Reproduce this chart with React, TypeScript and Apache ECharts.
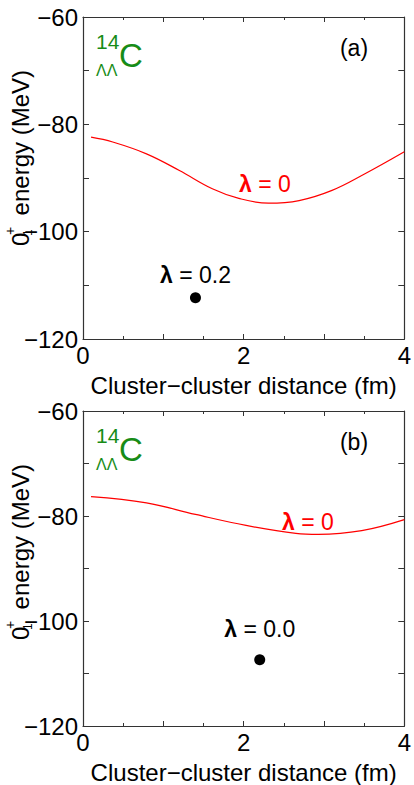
import React, { useEffect, useRef } from "react";
import * as echarts from "echarts";

// Panel (a): lambda = 0 curve
const curveAX = [0.1, 0.37, 0.79, 1.2, 1.61, 1.94, 2.31, 2.69, 3.1, 3.51, 4.0];
const curveAY = [-82.4, -83.3, -85.5, -88.6, -92.0, -93.8, -94.7, -94.2, -92.3, -89.2, -85.1];
// Panel (b): lambda = 0 curve
const curveBX = [0.1, 0.79, 1.4, 2.03, 2.65, 2.93, 3.47, 4.0];
const curveBY = [-76.3, -77.5, -79.7, -81.8, -83.3, -83.5, -82.8, -80.7];
// Optimised points
const pointA = [1.4, -112.3];
const pointB = [2.2, -107.4];
const lambdaLabels = ["0.2", "0.0"];
const panelLabels = ["(a)", "(b)"];
const xTickLabels = [0, 2, 4];
const yTickLabels = [-60, -80, -100, -120];

const FONT = "'Liberation Sans', Arial, Helvetica, sans-serif";
const AXIS_COLOR = "#333";
const GREEN = "#178c17";

export default function App() {
  const ref = useRef<HTMLDivElement>(null);
  useEffect(() => {
    if (!ref.current) return;
    const chart = echarts.init(ref.current, undefined, { renderer: "svg" });

    const grids = [
      { left: 83, top: 17, width: 323, height: 322 },
      { left: 83, top: 411, width: 323, height: 323 },
    ];

    const xAxes: any[] = [];
    const yAxes: any[] = [];
    grids.forEach((_, gi) => {
      xAxes.push({
        type: "value",
        gridIndex: gi,
        min: 0,
        max: 4,
        interval: 1,
        position: "bottom",
        name: "Cluster\u2212cluster distance (fm)",
        nameLocation: "middle",
        nameGap: 34,
        nameTextStyle: { fontSize: 24, color: "#000", fontFamily: FONT },
        axisLine: { show: true, onZero: false, lineStyle: { color: AXIS_COLOR, width: 1.2 } },
        axisTick: { show: true, inside: true, length: 5, lineStyle: { color: AXIS_COLOR } },
        minorTick: { show: true, splitNumber: 2, length: 3, lineStyle: { color: AXIS_COLOR } },
        axisLabel: {
          fontSize: 24,
          color: "#000",
          fontFamily: FONT,
          margin: 4,
          formatter: (v: number) => (xTickLabels.includes(v) ? String(v) : ""),
        },
        splitLine: { show: false },
      });
      xAxes.push({
        type: "value",
        gridIndex: gi,
        min: 0,
        max: 4,
        interval: 1,
        position: "top",
        axisLine: { show: true, onZero: false, lineStyle: { color: AXIS_COLOR, width: 1.2 } },
        axisTick: { show: true, inside: true, length: 5, lineStyle: { color: AXIS_COLOR } },
        minorTick: { show: true, splitNumber: 2, length: 3, lineStyle: { color: AXIS_COLOR } },
        axisLabel: { show: false },
        splitLine: { show: false },
      });
      yAxes.push({
        type: "value",
        gridIndex: gi,
        min: -120,
        max: -60,
        interval: 10,
        position: "left",
        axisLine: { show: true, onZero: false, lineStyle: { color: AXIS_COLOR, width: 1.2 } },
        axisTick: { show: true, inside: true, length: 6, lineStyle: { color: AXIS_COLOR } },
        axisLabel: {
          fontSize: 24,
          color: "#000",
          fontFamily: FONT,
          margin: 5,
          formatter: (v: number) =>
            yTickLabels.includes(v) ? String(v).replace("-", "\u2212") : "",
        },
        splitLine: { show: false },
      });
      yAxes.push({
        type: "value",
        gridIndex: gi,
        min: -120,
        max: -60,
        interval: 10,
        position: "right",
        axisLine: { show: true, onZero: false, lineStyle: { color: AXIS_COLOR, width: 1.2 } },
        axisTick: { show: true, inside: true, length: 6, lineStyle: { color: AXIS_COLOR } },
        axisLabel: { show: false },
        splitLine: { show: false },
      });
    });

    const curves = [
      curveAX.map((x, i) => [x, curveAY[i]]),
      curveBX.map((x, i) => [x, curveBY[i]]),
    ];
    const points = [pointA, pointB];
    const labelDist = [6, 14];

    const series: any[] = [];
    curves.forEach((data, gi) => {
      series.push({
        type: "line",
        xAxisIndex: gi * 2,
        yAxisIndex: gi * 2,
        data,
        smooth: 0.4,
        symbol: "none",
        lineStyle: { color: "#ff0000", width: 1.2 },
        z: 3,
      });
      series.push({
        type: "scatter",
        xAxisIndex: gi * 2,
        yAxisIndex: gi * 2,
        data: [points[gi]],
        symbolSize: 11,
        itemStyle: { color: "#000", opacity: 1 },
        label: {
          show: true,
          position: "top",
          distance: labelDist[gi],
          formatter: "{l|\u03bb} {n|= " + lambdaLabels[gi] + "}",
          fontSize: 23,
          color: "#000",
          fontFamily: FONT,
          rich: {
            l: { fontSize: 23, fontWeight: "bold", color: "#000", fontFamily: FONT },
            n: { fontSize: 23, color: "#000", fontFamily: FONT },
          },
        },
        emphasis: { disabled: true },
        z: 4,
      });
    });

    const graphics: any[] = [];
    const offsets = [0, 394];
    const redLabelPos = [
      [265, 184],
      [308, 522],
    ];
    offsets.forEach((dy, gi) => {
      // nucleus label
      graphics.push({
        type: "text",
        left: 96,
        top: 31 + dy,
        style: { text: "14", fontSize: 21, fill: GREEN, fontFamily: FONT },
      });
      graphics.push({
        type: "text",
        left: 119,
        top: 39 + dy,
        style: { text: "C", fontSize: 33, fill: GREEN, fontFamily: FONT },
      });
      graphics.push({
        type: "text",
        left: 96,
        top: 62 + dy,
        style: { text: "\u039b\u039b", fontSize: 16, fill: GREEN, fontFamily: FONT },
      });
      // panel label
      graphics.push({
        type: "text",
        x: 354,
        y: 48 + dy,
        style: {
          text: panelLabels[gi],
          fontSize: 23,
          fill: "#000",
          fontFamily: FONT,
          align: "center",
          verticalAlign: "middle",
        },
      });
      // red lambda label
      graphics.push({
        type: "text",
        x: redLabelPos[gi][0],
        y: redLabelPos[gi][1],
        style: {
          text: "{l|\u03bb} {n|= 0}",
          fontSize: 23,
          fill: "#ff0000",
          fontFamily: FONT,
          align: "center",
          verticalAlign: "middle",
          rich: {
            l: { fontSize: 23, fontWeight: "bold", fill: "#ff0000", fontFamily: FONT },
            n: { fontSize: 23, fill: "#ff0000", fontFamily: FONT },
          },
        },
      });
      // y axis title (rotated, reading upwards)
      graphics.push({
        type: "group",
        x: 20,
        y: 246 + dy,
        rotation: Math.PI / 2,
        children: [
          {
            type: "text",
            x: 0,
            y: 0,
            style: { text: "0", fontSize: 24, fill: "#000", fontFamily: FONT, verticalAlign: "middle" },
          },
          {
            type: "text",
            x: 11,
            y: -10,
            style: { text: "+", fontSize: 14, fill: "#000", fontFamily: FONT, verticalAlign: "middle" },
          },
          {
            type: "text",
            x: 10,
            y: 8,
            style: { text: "1", fontSize: 12, fill: "#000", fontFamily: FONT, verticalAlign: "middle" },
          },
          {
            type: "text",
            x: 176,
            y: 0,
            style: {
              text: "energy (MeV)",
              fontSize: 24,
              fill: "#000",
              fontFamily: FONT,
              align: "right",
              verticalAlign: "middle",
            },
          },
        ],
      });
    });

    chart.setOption({
      animation: false,
      backgroundColor: "#fff",
      textStyle: { fontFamily: FONT },
      grid: grids,
      xAxis: xAxes,
      yAxis: yAxes,
      series,
      graphic: graphics,
    });
    return () => chart.dispose();
  }, []);

  return (
    <div
      ref={ref}
      style={{ position: "absolute", left: 0, top: 0, width: 414, height: 785 }}
    />
  );
}
